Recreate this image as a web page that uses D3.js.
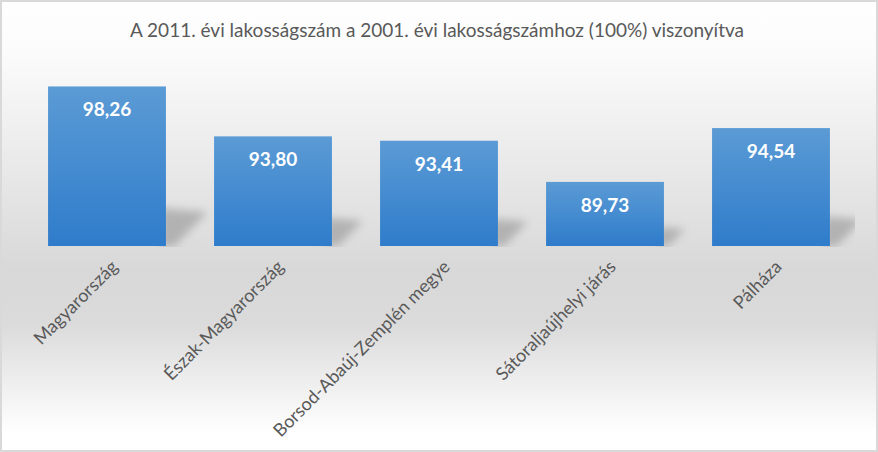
<!DOCTYPE html>
<html>
<head>
<meta charset="utf-8">
<script src="https://cdn.jsdelivr.net/npm/d3@7"></script>
<style>
  body { margin: 0; background: #fff; }
  svg { display: block; }
  text { font-family: Lato, "Open Sans", sans-serif; }
</style>
</head>
<body>
<div id="chart"></div>
<script>
var categories = ['Magyarország', 'Észak-Magyarország', 'Borsod-Abaúj-Zemplén megye', 'Sátoraljaújhelyi járás', 'Pálháza'];
var values = [98.26, 93.80, 93.41, 89.73, 94.54];
var titleText = 'A 2011. évi lakosságszám a 2001. évi lakosságszámhoz (100%) viszonyítva';
var yDomain = [84, 100];

var width = 878, height = 452;
var fmt = function(v){ return d3.format('.2f')(v).replace('.', ','); };

var svg = d3.select('#chart').append('svg')
  .attr('width', width)
  .attr('height', height);

var defs = svg.append('defs');

/* chart area background: white -> grey -> white */
var bg = defs.append('linearGradient').attr('id', 'bg')
  .attr('x1', 0).attr('y1', 0).attr('x2', 0).attr('y2', 1);
bg.append('stop').attr('offset', '0%').attr('stop-color', '#ffffff');
bg.append('stop').attr('offset', '12%').attr('stop-color', '#fbfbfb');
bg.append('stop').attr('offset', '60%').attr('stop-color', '#d8d8d8');
bg.append('stop').attr('offset', '72%').attr('stop-color', '#dbdbdb');
bg.append('stop').attr('offset', '96%').attr('stop-color', '#ffffff');

var barGrad = defs.append('linearGradient').attr('id', 'bar')
  .attr('x1', 0).attr('y1', 0).attr('x2', 0).attr('y2', 1);
barGrad.append('stop').attr('offset', '0%').attr('stop-color', '#5b9bd5');
barGrad.append('stop').attr('offset', '100%').attr('stop-color', '#2f7ccb');

defs.append('filter').attr('id', 'blur')
  .attr('x', '-50%').attr('y', '-50%').attr('width', '200%').attr('height', '200%')
  .append('feGaussianBlur').attr('stdDeviation', 4);

defs.append('clipPath').attr('id', 'plotclip')
  .append('rect').attr('x', 20).attr('y', 40).attr('width', 835).attr('height', 207);

svg.append('rect')
  .attr('x', 1).attr('y', 1)
  .attr('width', width - 2).attr('height', height - 2)
  .attr('fill', 'url(#bg)')
  .attr('stroke', '#d9d9d9')
  .attr('stroke-width', 2);

svg.append('text')
  .attr('x', 437).attr('y', 37)
  .attr('text-anchor', 'middle')
  .attr('fill', '#595959')
  .style('font-size', '19px')
  .text(titleText);

var x = d3.scaleBand()
  .domain(categories)
  .range([24, 854])
  .paddingInner(0.29)
  .paddingOuter(0.145);

var y = d3.scaleLinear()
  .domain(yDomain)
  .range([246, 67]);

var data = categories.map(function(c, i){ return { name: c, value: values[i] }; });

// soft perspective shadows behind the bars
svg.append('g').attr('clip-path', 'url(#plotclip)')
  .selectAll('path').data(data).enter().append('path')
  .attr('d', function(d){
    var x1 = x(d.name) + x.bandwidth();
    var base = y(yDomain[0]);
    var h = base - y(d.value);
    var hs = h * 0.2 + 6;
    var dx = hs * 1.1;
    return 'M' + (x1 - 6) + ',' + base +
      'L' + (x1 - 6) + ',' + (base - hs) +
      'L' + (x1 + dx) + ',' + (base - hs * 0.9) +
      'L' + (x1 + dx * 0.2) + ',' + base + 'Z';
  })
  .attr('fill', '#707070')
  .attr('opacity', 0.4)
  .attr('filter', 'url(#blur)');

svg.append('g').selectAll('rect').data(data).enter().append('rect')
  .attr('x', function(d){ return x(d.name); })
  .attr('y', function(d){ return y(d.value); })
  .attr('width', x.bandwidth())
  .attr('height', function(d){ return y(yDomain[0]) - y(d.value); })
  .attr('fill', 'url(#bar)');

svg.append('g').selectAll('text').data(data).enter().append('text')
  .attr('x', function(d){ return x(d.name) + x.bandwidth() / 2; })
  .attr('y', function(d){ return y(d.value) + 30; })
  .attr('text-anchor', 'middle')
  .attr('fill', '#ffffff')
  .style('font-size', '19px')
  .style('font-weight', 'bold')
  .text(function(d){ return fmt(d.value); });

svg.append('g').selectAll('text').data(data).enter().append('text')
  .attr('transform', function(d){
    return 'translate(' + (x(d.name) + x.bandwidth() / 2 + 3) + ',' + 259 + ') rotate(-45)';
  })
  .attr('dy', '0.7em')
  .attr('text-anchor', 'end')
  .attr('fill', '#595959')
  .style('font-size', '18px')
  .text(function(d){ return d.name; });
</script>
</body>
</html>
